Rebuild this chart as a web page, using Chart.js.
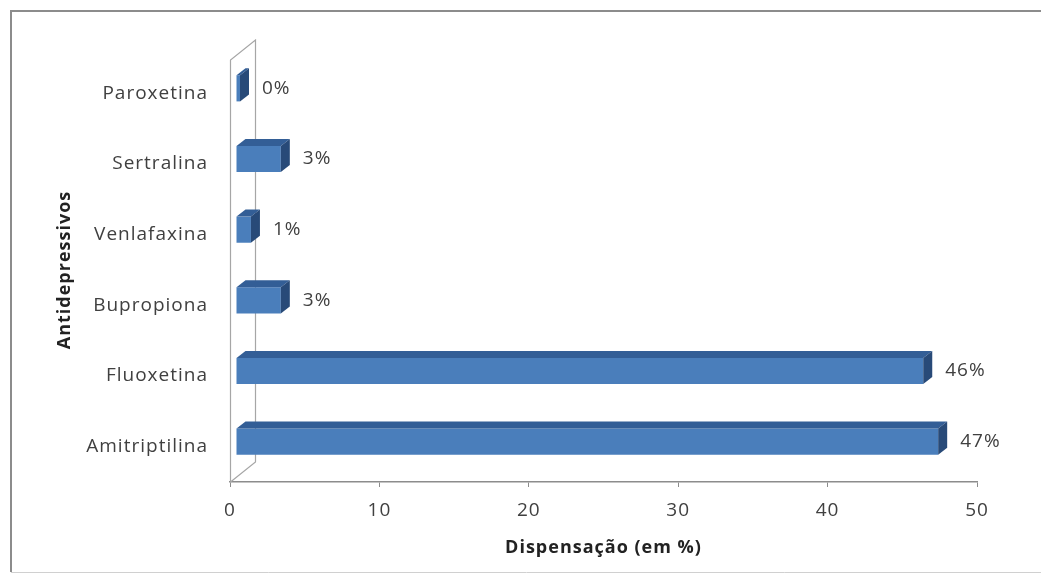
<!DOCTYPE html>
<html>
<head>
<meta charset="utf-8">
<title>Antidepressivos</title>
<script src="https://cdn.jsdelivr.net/npm/chart.js@4.4.1/dist/chart.umd.min.js"></script>
<style>
  body { margin: 0; background: #fff; }
  #chart { display: block; }
</style>
</head>
<body>
<canvas id="chart" width="1041" height="578"></canvas>
<script>
// data, top row first (as in the original)
const categories = ["Paroxetina", "Sertralina", "Venlafaxina", "Bupropiona", "Fluoxetina", "Amitriptilina"];
const values = [0, 3, 1, 3, 46, 47];
const xTicks = [0, 10, 20, 30, 40, 50];

const FONT = "'Open Sans', 'DejaVu Sans', sans-serif";
const DEPTH_X = 9, DEPTH_Y = 7;     // bar depth
const SHIFT_X = 6, SHIFT_Y = -5;    // bars sit a bit inside the 3D box

// frame, back wall, 3D faces and value labels
const box3d = {
  id: "box3d",
  beforeLayout(chart) {
    // the original text is wide, a little letter spacing gets close to it
    chart.ctx.letterSpacing = "1px";
  },
  beforeDraw(chart) {
    const ctx = chart.ctx;
    ctx.letterSpacing = "1px";
    ctx.save();
    ctx.strokeStyle = "#8c8c8c";
    ctx.lineWidth = 2;
    ctx.beginPath();
    ctx.moveTo(1045, 11);
    ctx.lineTo(11, 11);
    ctx.lineTo(11, 572);
    ctx.stroke();
    ctx.strokeStyle = "#d0d0d0";
    ctx.lineWidth = 1;
    ctx.beginPath();
    ctx.moveTo(11, 572.5);
    ctx.lineTo(1045, 572.5);
    ctx.stroke();
    ctx.restore();
  },
  beforeDatasetsDraw(chart) {
    const ctx = chart.ctx;
    const a = chart.chartArea;
    const wx = 25, wy = 20;
    ctx.save();
    ctx.strokeStyle = "#a6a6a6";
    ctx.lineWidth = 1.2;
    ctx.beginPath();
    ctx.moveTo(a.left + 0.5, a.bottom);
    ctx.lineTo(a.left + 0.5, a.top + 2);
    ctx.lineTo(a.left + wx + 0.5, a.top + 2 - wy);
    ctx.lineTo(a.left + wx + 0.5, a.bottom - wy);
    ctx.lineTo(a.left + 0.5, a.bottom);
    ctx.stroke();
    ctx.restore();
    ctx.save();
    ctx.translate(SHIFT_X, SHIFT_Y);
  },
  afterDatasetsDraw(chart) {
    const ctx = chart.ctx;
    const meta = chart.getDatasetMeta(0);
    meta.data.forEach((bar) => {
      const top = bar.y - bar.height / 2;
      const bottom = bar.y + bar.height / 2;
      const x0 = bar.base, x1 = bar.x;
      ctx.fillStyle = "#335e96";
      ctx.beginPath();
      ctx.moveTo(x0, top);
      ctx.lineTo(x0 + DEPTH_X, top - DEPTH_Y);
      ctx.lineTo(x1 + DEPTH_X, top - DEPTH_Y);
      ctx.lineTo(x1, top);
      ctx.closePath();
      ctx.fill();
      ctx.fillStyle = "#284a78";
      ctx.beginPath();
      ctx.moveTo(x1, top);
      ctx.lineTo(x1 + DEPTH_X, top - DEPTH_Y);
      ctx.lineTo(x1 + DEPTH_X, bottom - DEPTH_Y);
      ctx.lineTo(x1, bottom);
      ctx.closePath();
      ctx.fill();
    });
    ctx.restore();

    // labels
    ctx.save();
    ctx.font = "19px " + FONT;
    ctx.fillStyle = "#404040";
    ctx.textAlign = "left";
    ctx.textBaseline = "middle";
    meta.data.forEach((bar, i) => {
      ctx.fillText(values[i] + "%", bar.x + SHIFT_X + 22, bar.y + SHIFT_Y);
    });
    ctx.restore();
  }
};

new Chart(document.getElementById("chart"), {
  type: "bar",
  data: {
    labels: categories,
    datasets: [{
      data: values,
      backgroundColor: "#4a7ebb",
      borderWidth: 0,
      minBarLength: 4,
      categoryPercentage: 1,
      barPercentage: 0.37
    }]
  },
  options: {
    indexAxis: "y",
    responsive: false,
    animation: false,
    layout: { padding: { left: 10, right: 64, top: 58, bottom: 15 } },
    plugins: {
      legend: { display: false },
      tooltip: { enabled: false }
    },
    scales: {
      x: {
        min: 0,
        max: 50,
        afterBuildTicks: (scale) => { scale.ticks = xTicks.map((v) => ({ value: v })); },
        afterFit: (scale) => { scale.height = 81; },
        grid: { drawOnChartArea: false, tickLength: 5, color: "#8c8c8c" },
        border: { color: "#8c8c8c", width: 1.5 },
        ticks: { padding: 12, color: "#404040", font: { family: FONT, size: 19 } },
        title: {
          display: true,
          text: "Dispensação (em %)",
          color: "#222",
          padding: { top: 0, bottom: 4 },
          font: { family: FONT, size: 18, weight: "bold" }
        }
      },
      y: {
        afterFit: (scale) => { scale.width = 220; },
        grid: { display: false, drawTicks: false },
        border: { display: false },
        ticks: { padding: 22, color: "#404040", font: { family: FONT, size: 19 } },
        title: {
          display: true,
          text: "Antidepressivos",
          color: "#222",
          padding: { top: 44, bottom: 0 },
          font: { family: FONT, size: 18, weight: "bold" }
        }
      }
    }
  },
  plugins: [box3d]
});
</script>
</body>
</html>
